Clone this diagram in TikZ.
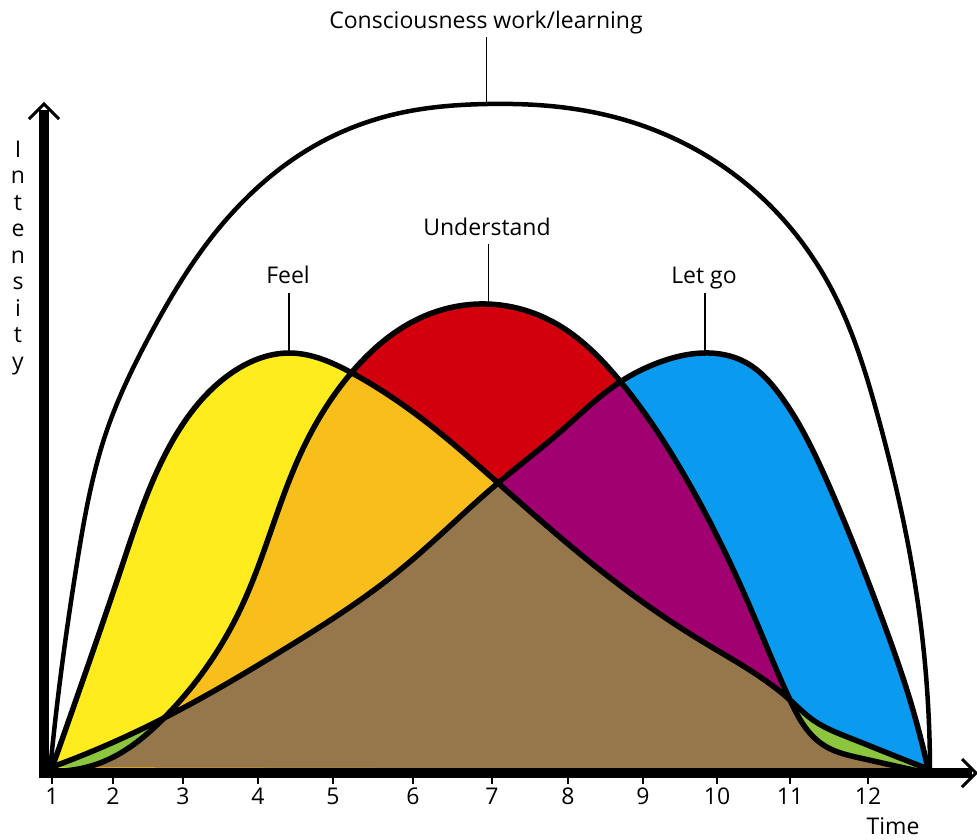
\documentclass[tikz,border=0pt]{standalone}
\usepackage{fontspec}
\setmainfont{Open Sans}
\usetikzlibrary{hobby}
\definecolor{cyel}{RGB}{255,236,30}
\definecolor{corg}{RGB}{247,190,28}
\definecolor{cred}{RGB}{210,0,12}
\definecolor{cmag}{RGB}{160,0,112}
\definecolor{cblu}{RGB}{10,155,240}
\definecolor{cbrn}{RGB}{150,119,76}
\definecolor{cgrn}{RGB}{140,198,63}
\def\feelc{(52,768) .. (77,697) .. (123,563) .. (173,440) .. (230,374) .. (289,353) .. (352,373) .. (430,425) .. (498,483) .. (600,570) .. (700,640) .. (790,700) .. (813,720) .. (850,738) .. (885,752) .. (928,769)}
\def\undc{(52,771) .. (100,763) .. (133,745) .. (164,718) .. (240,610) .. (300,455) .. (352,372) .. (420,318) .. (487,304) .. (555,323) .. (620,381) .. (683,473) .. (750,607) .. (790,700) .. (805,727) .. (825,746) .. (860,758) .. (918,771)}
\def\letc{(52,767) .. (100,748) .. (164,718) .. (283,650) .. (400,570) .. (498,483) .. (560,432) .. (620,382) .. (660,362) .. (703,353) .. (745,362) .. (780,395) .. (827,481) .. (880,613) .. (910,700) .. (928,769)}
\def\outc{(50,771) .. (58,697) .. (77,563) .. (107,430) .. (150,335) .. (215,233) .. (325,140) .. (400,113) .. (487,104) .. (550,106) .. (625,120) .. (750,187) .. (832,290) .. (877,413) .. (917,597) .. (930,770)}
\begin{document}
\begin{tikzpicture}[x=1pt,y=-1pt, use Hobby shortcut,
  lbl/.style={font=\fontsize{23}{23}\selectfont, inner sep=0pt, anchor=base},
  tick/.style={font=\fontsize{23}{23}\selectfont, inner sep=0pt, anchor=base},
  curve/.style={line width=5.5pt, line join=round, line cap=round},
  outer/.style={line width=4.5pt, line join=round, line cap=round},
  leader/.style={line width=1.6pt},
  axis/.style={line width=10pt},
  chev/.style={line width=3pt, line join=miter}]
\useasboundingbox (0,0) rectangle (977,839);
\fill[white] (0,0) rectangle (977,839);
% single regions
\fill[cyel] \feelc -- cycle;
\fill[cred] \undc -- cycle;
\fill[cblu] \letc -- cycle;
% pairwise overlaps
\begin{scope}\clip \feelc -- cycle; \fill[corg] \undc -- cycle;\end{scope}
\begin{scope}\clip \undc -- cycle; \fill[cmag] \letc -- cycle;\end{scope}
\begin{scope}\clip \feelc -- cycle; \fill[cgrn] \letc -- cycle;\end{scope}
% triple overlap
\begin{scope}\clip \feelc -- cycle; \clip \undc -- cycle; \fill[cbrn] \letc -- cycle;\end{scope}
% outlines
\draw[curve] \feelc;
\draw[curve] \undc;
\draw[curve] \letc;
\draw[outer] \outc;
% labels and leaders
\node[lbl] (cons) at (486,28) {Consciousness work/learning};
\node[lbl] (und) at (487,235) {Understand};
\node[lbl] (feel) at (288,283) {Feel};
\node[lbl] (letgo) at (704,283) {Let go};
\coordinate (consTop) at (486.5,37);
\coordinate (consPk) at (486.5,105);
\coordinate (undTop) at (488.5,244);
\coordinate (undPk) at (488.5,304);
\coordinate (feelTop) at (289,293);
\coordinate (feelPk) at (289,353);
\coordinate (letTop) at (705,293);
\coordinate (letPk) at (705,353);
\draw[leader] (consTop) -- (consPk);
\draw[leader] (undTop) -- (undPk);
\draw[leader] (feelTop) -- (feelPk);
\draw[leader] (letTop) -- (letPk);
% axes
\coordinate (orig) at (44,773);
\coordinate (ytip) at (44,104);
\coordinate (xtip) at (976,773);
\draw[axis] (44,778) -- (44,110);
\draw[axis] (39,773) -- (972,773);
\draw[chev] (29,119) -- (ytip) -- (59,119);
\draw[chev] (962,759) -- (xtip) -- (962,787);
% ticks
\foreach \n/\x in {1/52,2/113,3/183,4/258,5/333,6/413,7/492,8/568,9/643,10/717,11/790,12/868}{
  \draw[line width=1.5pt] (\x,777) -- (\x,784);
  \node[tick] (t\n) at (\x,804) {\n};
}
\node[tick] (time) at (893,834) {Time};
% vertical label
\foreach \c [count=\i from 0] in {I,n,t,e,n,s,i,t,y}{
  \node[tick] (v\i) at (18,157+26.5*\i) {\c};
}
\end{tikzpicture}
\end{document}
